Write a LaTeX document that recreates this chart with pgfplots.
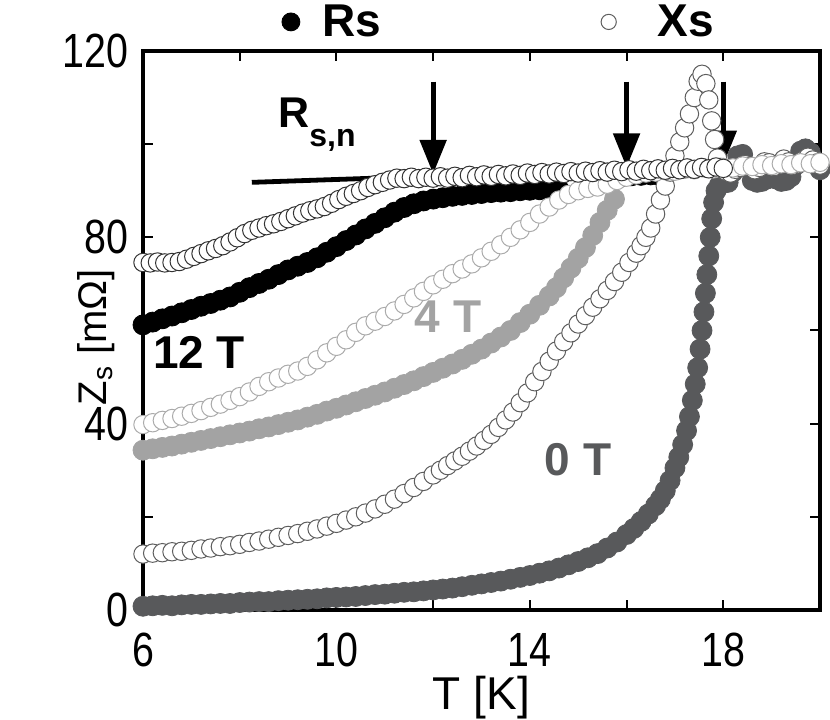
\documentclass[border=0pt]{standalone}
\usepackage{fontspec}
\setmainfont{Liberation Sans}
\newfontfamily\narrow[FakeStretch=0.82]{Liberation Sans}
\usepackage{pgfplots}
\pgfplotsset{compat=1.18}
\usetikzlibrary{arrows.meta}
\definecolor{zeroT}{HTML}{58595B}
\definecolor{fourT}{HTML}{A3A3A3}
\definecolor{xsfour}{HTML}{ABABAB}
\definecolor{xszero}{HTML}{5E5E5E}
\definecolor{xstwelve}{HTML}{333333}

\begin{document}
\begin{tikzpicture}
\begin{axis}[
    name=ax,
    scale only axis,
    width=338.5pt, height=279.5pt,
    xmin=6, xmax=20, ymin=0, ymax=120,
    xtick={6,8,...,20}, xticklabels={6,,10,,14,,18,},
    ytick={0,20,...,120}, yticklabels={0,,40,,80,,120},
    tick align=inside, major tick length=5pt,
    tick style={black, line width=1pt},
    axis line style={line width=2.2pt},
    /pgf/number format/assume math mode=true,
    ticklabel style={font=\narrow\fontsize{24}{24}\selectfont},
    xticklabel style={yshift=-8pt},
    yticklabel style={xshift=-4pt},
    xlabel={T [K]},
    ylabel={Z\textsubscript{s} [mΩ]},
    ylabel style={font=\fontsize{20}{20}\selectfont, inner sep=0pt,
        at={([xshift=-14pt]axis description cs:0,0.488)}, anchor=south},
    xlabel style={font=\fontsize{23}{23}\selectfont, inner sep=0pt,
        at={([yshift=-33pt]axis description cs:0.5,0)}, anchor=north},
    legend style={draw=none, fill=none, at={(axis description cs:0.524,1.052)}, anchor=center,
        font=\bfseries\fontsize{23}{23}\selectfont,
        nodes={inner sep=0pt}, column sep=0pt},
    legend columns=2,
    legend cell align=left,
]

% Rs, 0 T
\addplot[only marks, mark=*, mark size=5pt, color=zeroT, forget plot] coordinates {
(6.0,0.8) (6.2,0.9) (6.4,1.0) (6.6,0.9) (6.8,1.1) (7.0,1.2) (7.2,1.2) (7.4,1.3)
(7.6,1.4) (7.8,1.4) (8.0,1.6) (8.2,1.7) (8.4,1.8) (8.6,1.8) (8.8,2.0) (9.0,2.1)
(9.2,2.2) (9.4,2.3) (9.6,2.4) (9.8,2.6) (10.0,2.7) (10.2,2.8) (10.4,2.9) (10.6,3.1)
(10.8,3.3) (11.0,3.4) (11.2,3.6) (11.4,3.8) (11.6,3.9) (11.8,4.1) (12.0,4.3) (12.2,4.5)
(12.4,4.7) (12.6,5.0) (12.8,5.3) (13.0,5.6) (13.2,5.9) (13.4,6.2) (13.6,6.6) (13.8,7.0)
(14.0,7.4) (14.2,7.9) (14.4,8.4) (14.6,9.0) (14.8,9.7) (15.0,10.4) (15.2,11.2) (15.4,12.1)
(15.6,13.3) (15.8,14.6) (16.0,16.2) (16.15,17.5) (16.3,19.0) (16.45,20.6) (16.6,22.4)
(16.7,23.8) (16.8,25.6) (16.9,27.8) (17.0,30.5) (17.08,32.8) (17.16,35.5) (17.24,38.5)
(17.3,41.5) (17.36,45) (17.42,48.5) (17.47,52) (17.52,56) (17.56,60) (17.6,64)
(17.63,68) (17.66,72) (17.7,76) (17.73,80) (17.76,84) (17.8,87.5) (17.85,90)
(17.92,91.2) (18.0,91.6) (18.1,91.8) (18.2,94) (18.3,97.5) (18.4,97.8) (18.5,95)
(18.6,92.2) (18.7,91.8) (18.8,92) (18.9,92.5) (19.0,93.5) (19.1,92.5) (19.2,92)
(19.3,92.2) (19.4,93) (19.5,95.5) (19.6,98.5) (19.7,99.0) (19.8,98.2) (19.9,96) (20.0,94.5)
};

% Rs, 4 T
\addplot[only marks, mark=*, mark size=5pt, color=fourT, forget plot] coordinates {
(6.0,34.3) (6.2,34.6) (6.4,34.9) (6.6,35.2) (6.8,35.6) (7.0,36.0) (7.2,36.4) (7.4,36.8)
(7.6,37.2) (7.8,37.6) (8.0,38.0) (8.2,38.4) (8.4,38.9) (8.6,39.3) (8.8,39.8) (9.0,40.3)
(9.2,40.8) (9.4,41.4) (9.6,42.0) (9.8,42.7) (10.0,43.3) (10.2,44.0) (10.4,44.7) (10.6,45.4)
(10.8,46.1) (11.0,46.8) (11.2,47.6) (11.4,48.4) (11.6,49.2) (11.8,50.1) (12.0,51.0) (12.2,51.9)
(12.4,52.8) (12.6,53.8) (12.8,54.9) (13.0,56.0) (13.2,57.3) (13.4,58.6) (13.6,60.0) (13.8,61.7)
(14.0,63.5) (14.2,65.4) (14.4,67.4) (14.55,69.2) (14.7,71.3) (14.85,73.4) (15.0,75.5)
(15.15,77.8) (15.3,80.4) (15.45,83.2) (15.6,85.8) (15.75,88.2)
};

% Rs, 12 T
\addplot[only marks, mark=*, mark size=5pt, color=black,
    legend image code/.code={\fill[black] (0pt,0pt) circle (4.5pt);
        \path[draw=none, fill=none] (-4.5pt,0pt) -- (15.75pt,0pt);}] coordinates {
(6.0,61.2) (6.2,61.8) (6.4,62.5) (6.6,63.1) (6.8,63.8) (7.0,64.5) (7.2,65.2) (7.4,65.8)
(7.6,66.5) (7.8,67.2) (8.0,68.2) (8.2,69.2) (8.4,70.1) (8.6,71.0) (8.8,72.0) (9.0,73.0)
(9.2,73.8) (9.4,74.6) (9.6,75.6) (9.8,76.8) (10.0,78.0) (10.2,79.3) (10.4,80.5) (10.6,81.8)
(10.8,83.0) (11.0,84.2) (11.2,85.4) (11.4,86.4) (11.6,87.2) (11.8,87.8) (12.0,88.2) (12.2,88.5)
(12.4,88.8) (12.6,89.0) (12.8,89.2) (13.0,89.4) (13.2,89.6) (13.4,89.7) (13.6,89.8) (13.8,90.0)
(14.0,90.1) (14.2,90.2) (14.4,90.2) (14.6,90.3)
(15.9,93.0) (16.1,93.2) (16.3,93.3) (16.5,93.4) (16.65,93.4)
};
\addlegendentry{Rs}

% Xs, 0 T
\addplot[only marks, mark=*, mark size=4.6pt, forget plot,
    mark options={fill=white, draw=xszero, line width=0.5pt}] coordinates {
(6.0,12.0) (6.2,12.2) (6.4,12.3) (6.6,12.5) (6.8,12.6) (7.0,12.8) (7.2,13.1) (7.4,13.3)
(7.6,13.6) (7.8,13.8) (8.0,14.1) (8.2,14.5) (8.4,14.8) (8.6,15.2) (8.8,15.6) (9.0,16.0)
(9.2,16.4) (9.4,16.9) (9.6,17.4) (9.8,18.0) (10.0,18.6) (10.2,19.3) (10.4,20.0) (10.6,20.8)
(10.8,21.7) (11.0,22.7) (11.2,23.8) (11.4,25.0) (11.6,26.3) (11.8,27.6) (12.0,29.0)
(12.15,30.0) (12.3,31.0) (12.45,32.0) (12.6,33.0) (12.75,34.1) (12.9,35.2) (13.05,36.4)
(13.2,37.7) (13.35,39.2) (13.5,40.8) (13.65,42.5) (13.8,44.5) (13.95,46.6) (14.1,49.0)
(14.25,51.2) (14.4,53.4) (14.55,55.6) (14.7,57.6) (14.85,59.5) (15.0,61.4) (15.15,63.2)
(15.3,65.0) (15.45,66.8) (15.6,68.6) (15.75,70.5) (15.9,72.5) (16.05,74.6) (16.2,76.6)
(16.3,78.2) (16.4,80.0) (16.5,82.0) (16.6,85.0) (16.7,88.0) (16.8,91.0) (16.9,94.0)
(17.0,97.5) (17.1,100.5) (17.2,103.5) (17.3,106.5) (17.4,110.0) (17.48,113.5) (17.56,115.0)
(17.64,113.0) (17.7,109.5) (17.76,105.0) (17.82,101.0) (17.88,97.0) (17.95,95.0)
(18.05,94.2) (18.15,93.8) (18.25,94.6) (18.35,95.0) (18.45,95.6) (18.55,95.2) (18.65,94.5)
(18.75,95.0) (18.85,96.2) (18.95,96.0) (19.05,95.2) (19.15,95.8) (19.25,96.8) (19.35,96.2)
(19.45,95.5) (19.55,95.8) (19.65,96.5) (19.75,97.2) (19.85,96.6) (19.95,96.0) (20.0,95.5)
};

% Xs, 4 T
\addplot[only marks, mark=*, mark size=4.6pt, forget plot,
    mark options={fill=white, draw=xsfour, line width=0.5pt}] coordinates {
(6.0,39.8) (6.2,40.2) (6.4,40.7) (6.6,41.1) (6.8,41.6) (7.0,42.2) (7.2,42.8) (7.4,43.5)
(7.6,44.2) (7.8,45.0) (8.0,45.8) (8.2,46.8) (8.4,48.0) (8.6,49.0) (8.8,49.8) (9.0,50.6)
(9.2,51.3) (9.4,52.3) (9.6,53.7) (9.8,55.2) (10.0,56.6) (10.2,58.0) (10.4,59.6) (10.6,61.0)
(10.8,62.0) (11.0,63.0) (11.2,64.2) (11.4,65.6) (11.6,67.0) (11.8,68.4) (12.0,69.8) (12.2,71.0)
(12.4,72.2) (12.6,73.2) (12.8,74.3) (13.0,75.6) (13.2,77.0) (13.4,78.4) (13.6,80.0) (13.8,81.6)
(14.0,83.2) (14.2,85.0) (14.4,86.5) (14.6,88.0) (14.8,89.2) (15.0,90.0) (15.2,90.5) (15.4,90.8)
(15.6,91.4) (15.8,92.2) (16.0,92.9) (16.2,93.4) (16.4,93.8) (16.6,94.0) (16.8,94.3) (17.0,94.2)
(17.2,94.6) (17.4,94.5) (17.6,94.9) (17.8,94.7) (18.0,95.0) (18.2,94.9) (18.4,95.3) (18.6,95.2)
(18.8,95.6) (19.0,95.4) (19.2,95.8) (19.4,95.6) (19.6,96.0) (19.8,95.8) (20.0,96.1)
};

% Xs, 12 T
\addplot[only marks, mark=*, mark size=4.6pt,
    mark options={fill=white, draw=xstwelve, line width=0.5pt},
    legend image code/.code={\draw[xszero, fill=white, line width=0.5pt] (0pt,0pt) circle (3.8pt);
        \path[draw=none, fill=none] (-113.75pt,0pt) -- (24.5pt,0pt);}] coordinates {
(6.0,74.6) (6.15,74.5) (6.3,74.7) (6.45,74.5) (6.6,74.6) (6.75,74.8) (6.9,75.3) (7.05,75.9)
(7.2,76.5) (7.35,77.1) (7.5,77.6) (7.65,78.2) (7.8,79.0) (7.95,79.9) (8.1,80.8) (8.25,81.5)
(8.4,82.0) (8.55,82.5) (8.7,82.9) (8.85,83.4) (9.0,84.0) (9.15,84.6) (9.3,85.2) (9.45,85.7)
(9.6,86.1) (9.75,86.6) (9.9,87.3) (10.05,88.1) (10.2,88.8) (10.35,89.4) (10.5,90.0) (10.65,90.7)
(10.8,91.3) (10.95,91.8) (11.1,92.3) (11.25,92.7) (11.4,92.6) (11.55,92.9) (11.7,92.6) (11.85,92.9)
(12.0,92.7) (12.15,93.0) (12.3,92.7) (12.45,93.1) (12.6,92.8) (12.75,93.3) (12.9,93.0) (13.05,93.4)
(13.2,93.1) (13.35,93.5) (13.5,93.2) (13.65,93.6) (13.8,93.3) (13.95,93.8) (14.1,93.5) (14.25,93.9)
(14.4,93.6) (14.55,94.0) (14.7,93.7) (14.85,94.1) (15.0,93.8) (15.15,94.2) (15.3,93.9) (15.45,94.3)
(15.6,94.0) (15.75,94.4) (15.9,94.1) (16.05,94.5) (16.2,94.2) (16.35,94.6) (16.5,94.3) (16.65,94.7)
(16.8,94.4) (16.95,94.8) (17.1,94.5) (17.25,94.9) (17.4,94.6) (17.55,95.0) (17.7,94.7) (17.85,95.1)
(18.0,94.8)
};
\addlegendentry{Xs}

% normal-state line and Tc arrows
\addplot[black, line width=2.4pt, forget plot] coordinates {(8.25,91.8) (20,95.95)};
\addplot[black, line width=2.5pt, forget plot, -{Triangle[width=13pt,length=17pt]}] coordinates {(12,113.4) (12,93.6)};
\addplot[black, line width=2.5pt, forget plot, -{Triangle[width=13pt,length=17pt]}] coordinates {(16,113.4) (16,95.0)};
\addplot[black, line width=2.5pt, forget plot, -{Triangle[width=13pt,length=17pt]}] coordinates {(18,113.4) (18,95.6)};

\node[anchor=base west, inner sep=0pt, font=\bfseries\fontsize{21.5}{21.5}\selectfont]
    at (axis cs:8.79,103.5) {R\raisebox{-9.5pt}{\fontsize{16}{16}\selectfont s,n}};
\node[font=\bfseries\fontsize{23}{23}\selectfont, text=black] at (axis cs:7.16,55.2) {12 T};
\node[font=\bfseries\fontsize{23}{23}\selectfont, text=fourT] at (axis cs:12.31,62.9) {4 T};
\node[font=\bfseries\fontsize{23}{23}\selectfont, text=zeroT] at (axis cs:15.0,32.2) {0 T};
\end{axis}
\pgfresetboundingbox
\path[use as bounding box] ([shift={(-71.5pt,-55pt)}]ax.south west) rectangle ([shift={(5pt,25.5pt)}]ax.north east);
\end{tikzpicture}
\end{document}
